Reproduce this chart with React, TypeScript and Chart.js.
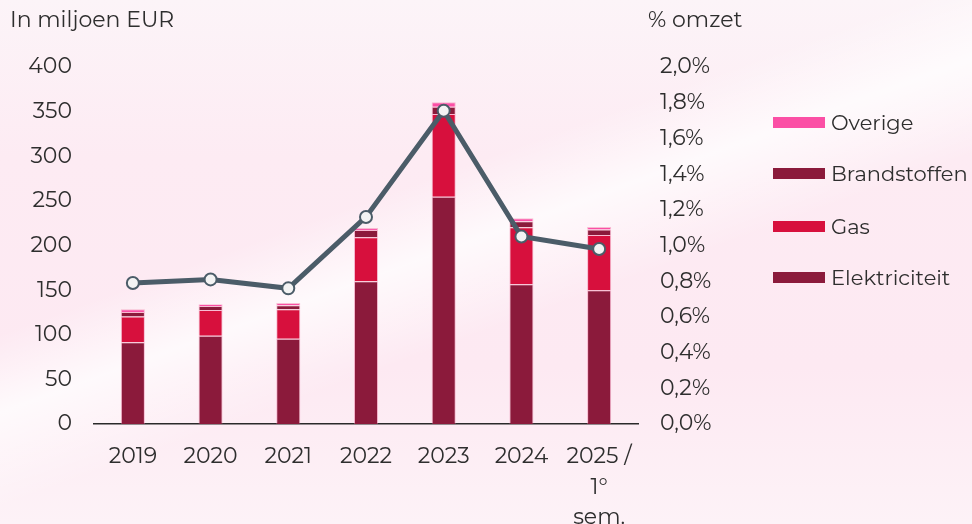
import React, { useEffect, useRef } from "react";
import { Chart, registerables } from "chart.js";

Chart.register(...registerables);

const categories: (string | string[])[] = ["2019", "2020", "2021", "2022", "2023", "2024", ["2025 /", "1°", "sem."]];
const elektriciteit = [91.5, 99, 95.6, 160, 254.7, 156.5, 149.8];
const gas = [29, 28.7, 33, 49.3, 92.7, 64, 62];
const brandstoffen = [5, 4.5, 4.5, 8, 8, 6.8, 6];
const overige = [3, 2, 2.5, 2.2, 5, 3.3, 3];
const pctOmzet = [0.79, 0.81, 0.76, 1.16, 1.755, 1.05, 0.98];

const leftMax = 400;
const leftStep = 50;
const rightMax = 2.0;
const rightStep = 0.2;

const FONT = 'Montserrat, "Noto Sans", "Open Sans", sans-serif';
const TEXT = "#2e2e2e";
const C_DARK = "#8b1a3b";
const C_GAS = "#d7103d";
const C_OV = "#fb4fa5";
const C_LINE = "#4b5c68";

const legendItems = [
  { label: "Overige", color: C_OV },
  { label: "Brandstoffen", color: C_DARK },
  { label: "Gas", color: C_GAS },
  { label: "Elektriciteit", color: C_DARK },
];

export default function App() {
  const ref = useRef<HTMLCanvasElement | null>(null);

  useEffect(() => {
    if (!ref.current) return;
    const barBorder = "rgba(240,120,165,0.45)";
    const chart = new Chart(ref.current, {
      type: "bar",
      data: {
        labels: categories as any,
        datasets: [
          {
            type: "line",
            label: "% omzet",
            data: pctOmzet,
            yAxisID: "y1",
            borderColor: C_LINE,
            borderWidth: 5,
            pointRadius: 6,
            pointBorderWidth: 2,
            pointBackgroundColor: "#f3f3f3",
            pointBorderColor: C_LINE,
            tension: 0,
            order: 0,
          } as any,
          { label: "Elektriciteit", data: elektriciteit, backgroundColor: C_DARK, borderColor: barBorder, borderWidth: 1, stack: "s", order: 1 },
          { label: "Gas", data: gas, backgroundColor: C_GAS, borderColor: barBorder, borderWidth: 1, stack: "s", order: 1 },
          { label: "Brandstoffen", data: brandstoffen, backgroundColor: C_DARK, borderColor: barBorder, borderWidth: 1, stack: "s", order: 1 },
          { label: "Overige", data: overige, backgroundColor: C_OV, borderColor: barBorder, borderWidth: 1, stack: "s", order: 1 },
        ],
      },
      options: {
        animation: false,
        responsive: false,
        maintainAspectRatio: false,
        layout: { padding: { top: 67, bottom: 0, left: 0, right: 0 } },
        datasets: {
          bar: { barPercentage: 0.31, categoryPercentage: 1 },
        } as any,
        plugins: {
          legend: { display: false },
          tooltip: { enabled: false },
        },
        scales: {
          x: {
            stacked: true,
            grid: { display: false, drawTicks: false },
            border: { display: true, color: "#2a2a2a", width: 1.5 },
            ticks: {
              color: TEXT,
              font: { family: FONT, size: 22, lineHeight: 1.4 },
              padding: 17,
              maxRotation: 0,
              autoSkip: false,
            },
            afterFit: (s: any) => {
              s.height = 100;
            },
          },
          y: {
            stacked: true,
            position: "left",
            min: 0,
            max: leftMax,
            grid: { display: false, drawTicks: false },
            border: { display: false },
            ticks: {
              stepSize: leftStep,
              color: TEXT,
              font: { family: FONT, size: 22 },
              padding: 22,
            },
            afterFit: (s: any) => {
              s.width = 94;
            },
          },
          y1: {
            position: "right",
            min: 0,
            max: rightMax,
            grid: { display: false, drawTicks: false },
            border: { display: false },
            ticks: {
              stepSize: rightStep,
              color: TEXT,
              font: { family: FONT, size: 22 },
              padding: 22,
              callback: (v: any) => Number(v).toFixed(1).replace(".", ",") + "%",
            },
            afterFit: (s: any) => {
              s.width = 334;
            },
          },
        },
      },
    });
    return () => chart.destroy();
  }, []);

  return (
    <div
      style={{
        position: "fixed",
        left: 0,
        top: 0,
        width: 972,
        height: 524,
        overflow: "hidden",
        fontFamily: FONT,
        color: TEXT,
        background:
          "linear-gradient(160deg, rgba(255,255,255,0) 38%, rgba(255,255,255,0.75) 47%, rgba(255,255,255,0) 58%), linear-gradient(180deg, #fcf4f8 0%, #fdebf3 30%, #fde9f2 70%, #fdf2f7 100%)",
      }}
    >
      <canvas ref={ref} width={972} height={524} style={{ position: "absolute", left: 0, top: 0 }} />
      <div style={{ position: "absolute", left: 10, top: 6, fontSize: 22 }}>In miljoen EUR</div>
      <div style={{ position: "absolute", left: 648, top: 6, fontSize: 22 }}>% omzet</div>
      {legendItems.map((it, i) => {
        const cy = [122, 173, 226, 277][i];
        return (
          <div key={it.label} style={{ position: "absolute", left: 773, top: cy - 14, height: 28, display: "flex", alignItems: "center" }}>
            <div style={{ width: 52, height: 11, background: it.color, marginRight: 6 }} />
            <div style={{ fontSize: 21, whiteSpace: "nowrap" }}>{it.label}</div>
          </div>
        );
      })}
    </div>
  );
}
